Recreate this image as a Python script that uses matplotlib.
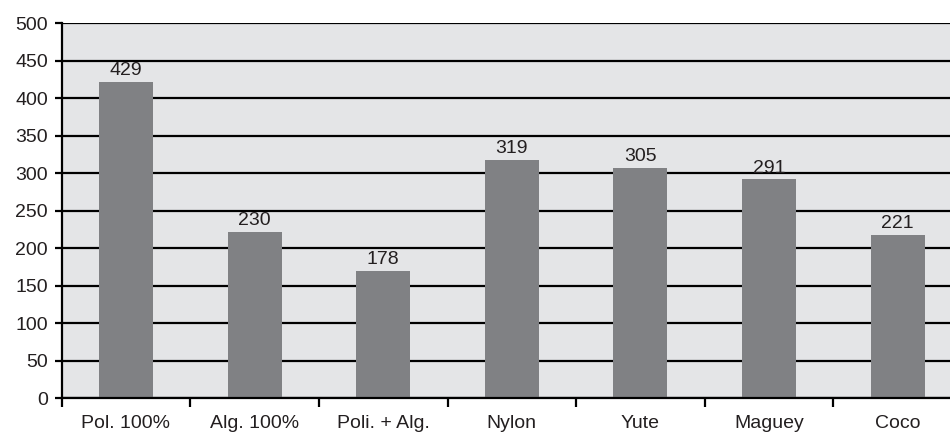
import matplotlib.pyplot as plt
import numpy as np

plt.rcParams['font.family'] = ['Liberation Sans', 'DejaVu Sans']

# categories and values
categories = ["Pol. 100%", "Alg. 100%", "Poli. + Alg.", "Nylon", "Yute", "Maguey", "Coco"]
bar_heights = [422, 222, 170, 318, 307, 292, 218]   # drawn bar tops
bar_labels = ["429", "230", "178", "319", "305", "291", "221"]   # printed values
y_ticks = [0, 50, 100, 150, 200, 250, 300, 350, 400, 450, 500]

text_col = "#231f20"

fig = plt.figure(figsize=(9.5, 4.34), dpi=100)
ax = fig.add_axes([0.0649, 0.0823, 0.9477, 0.864])
ax.set_facecolor("#e4e5e7")

x = np.arange(len(categories))
bars = ax.bar(x, bar_heights, width=0.42, color="#808184", zorder=3)
ax.bar_label(bars, labels=bar_labels, padding=2, fontsize=14, color=text_col)

ax.set_xlim(-0.5, len(categories) - 0.5)
ax.set_ylim(0, 500)

# horizontal grid lines
ax.set_yticks(y_ticks)
ax.yaxis.grid(True, color="black", linewidth=1.6, zorder=1)
ax.set_axisbelow(True)

# category labels in the middle, tick marks at boundaries
ax.set_xticks(x, categories)
ax.tick_params(axis="x", which="major", length=0, pad=12, labelsize=14, labelcolor=text_col)
ax.set_xticks(np.arange(len(categories) + 1) - 0.5, minor=True)
ax.tick_params(axis="x", which="minor", length=6.5, width=1.6, direction="out", color="black")
ax.tick_params(axis="y", length=5, width=1.6, pad=5, labelsize=14, labelcolor=text_col)

for s in ["top", "right"]:
    ax.spines[s].set_visible(False)
for s in ["left", "bottom"]:
    ax.spines[s].set_linewidth(1.6)
    ax.spines[s].set_color("black")
    ax.spines[s].set_zorder(4)

fig.savefig("out.png", dpi=100)
